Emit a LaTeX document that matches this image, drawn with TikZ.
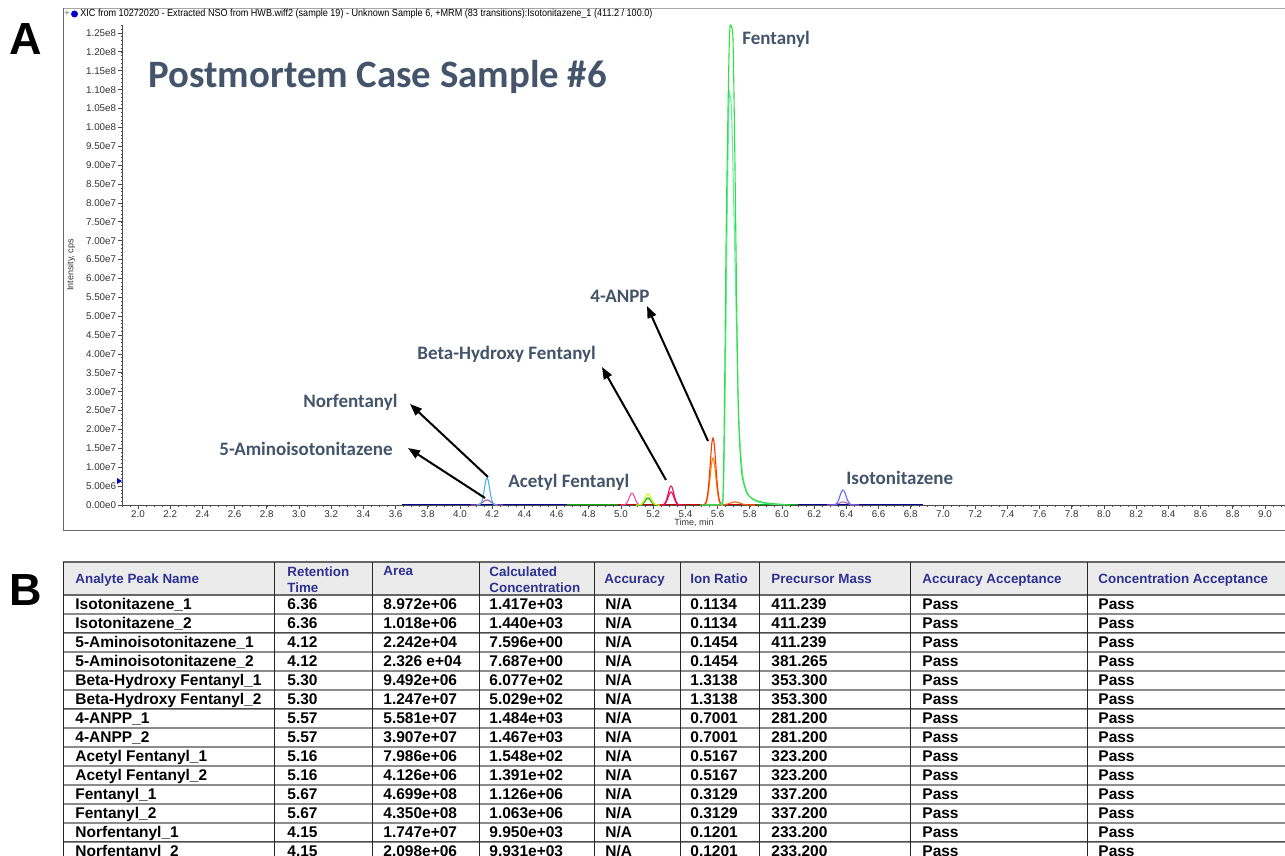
\documentclass[tikz,border=0pt]{standalone}
\usepackage{fontspec}
\usepackage{graphicx}
\setmainfont{Liberation Sans}
\newfontfamily\calib{Carlito}
\usetikzlibrary{arrows.meta}
\definecolor{lab}{HTML}{44546A}
\definecolor{hdr}{HTML}{2E3192}
\definecolor{hdbg}{HTML}{EBEBEB}
\definecolor{sep}{HTML}{8C8C8C}
\definecolor{fgreen}{HTML}{33DD44}
\definecolor{fmint}{HTML}{66EEAA}
\newcommand\drawpeak[4]{%
  \pgfmathsetmacro\pka{#2-4*#4}\pgfmathsetmacro\pkb{#2+4*#4}%
  \draw[#1, line width=0.55pt] plot[domain=\pka:\pkb, samples=41, smooth] (\x, {505-#3*exp(-((\x-#2)^2)/(2*#4*#4))});}
\begin{document}
\begin{tikzpicture}[x=0.5pt,y=-0.5pt,
  lbl/.style={font=\calib\bfseries\fontsize{9.5}{11}\selectfont, text=lab, inner sep=0, anchor=base west},
  arr/.style={-{Triangle[length=6pt,width=4.5pt]}, line width=1pt, black},
  ticklab/.style={font=\fontsize{4.9}{5}\selectfont, text=black!80, inner sep=0},
  cell/.style={font=\bfseries\fontsize{7.75}{9}\selectfont, inner sep=0, anchor=base west},
  hd/.style={font=\bfseries\fontsize{6.7}{8}\selectfont, text=hdr, inner sep=0, align=left},
  panel/.style={font=\bfseries\fontsize{22.5}{24}\selectfont, inner sep=0}]
\useasboundingbox (0,0) rectangle (1285,856);
\fill[white] (0,0) rectangle (1285,856);

% panel letters
\node[panel] (pA) at (26,39) {A};
\node[panel] (pB) at (26,590) {B};

% chart frame
\draw[gray!70, line width=0.8pt] (63,8.5) -- (1285,8.5);
\draw[gray!80!black, line width=0.5pt] (63,8) -- (63,530) -- (1285,530);
\node[font=\fontsize{5}{5}\selectfont, text=gray, inner sep=0] (plus) at (67,14) {+};
\fill[blue!80!black] (74.5,14) circle (3.5);
\node[font=\fontsize{5.1}{6}\selectfont, inner sep=0, anchor=west] (hdrtxt) at (80,14) {\scalebox{0.89}[1]{XIC from 10272020 - Extracted NSO from HWB.wiff2 (sample 19) - Unknown Sample 6, +MRM (83 transitions):Isotonitazene\_1 (411.2 / 100.0)}};

% y axis
\draw[gray!60!black, line width=0.5pt] (122,25) -- (122,505);
\foreach \v/\t [count=\k from 0] in {0.00e0,5.00e6,1.00e7,1.50e7,2.00e7,2.50e7,3.00e7,3.50e7,4.00e7,4.50e7,5.00e7,5.50e7,6.00e7,6.50e7,7.00e7,7.50e7,8.00e7,8.50e7,9.00e7,9.50e7,1.00e8,1.05e8,1.10e8,1.15e8,1.20e8,1.25e8}{
  \pgfmathsetmacro\yy{505-\k*18.88}
  \draw[gray!60!black, line width=0.4pt] (118,\yy) -- (122,\yy);
  \node[ticklab, anchor=east] (yl\k) at (116.5,\yy) {\v};
}
\foreach \m in {1,...,127}{
  \pgfmathsetmacro\yy{505-\m*3.776}
  \draw[gray!60!black, line width=0.3pt] (120.5,\yy) -- (122,\yy);
}
\node[font=\fontsize{4.5}{5}\selectfont, text=black!80, inner sep=0, rotate=90] (ylab) at (71,265) {Intensity, cps};
\fill[blue!80!black] (117,478) -- (122,481) -- (117,484) -- cycle;

% x axis
\draw[gray!60!black, line width=0.5pt] (122,505) -- (1285,505);
\foreach \m in {0,...,144}{
  \pgfmathsetmacro\xx{138+(\m*0.05-0.1)*161}
  \draw[gray!60!black, line width=0.3pt] (\xx,505) -- (\xx,507);
}
\foreach \t [count=\k] in {2.0,2.2,2.4,2.6,2.8,3.0,3.2,3.4,3.6,3.8,4.0,4.2,4.4,4.6,4.8,5.0,5.2,5.4,5.6,5.8,6.0,6.2,6.4,6.6,6.8,7.0,7.2,7.4,7.6,7.8,8.0,8.2,8.4,8.6,8.8,9.0}{
  \pgfmathsetmacro\xx{138+(\k-1)*0.2*161}
  \draw[gray!60!black, line width=0.4pt] (\xx,505) -- (\xx,509);
  \node[ticklab, anchor=north] (xl\k) at (\xx,510) {\t};
}
\node[font=\fontsize{4.5}{5}\selectfont, text=black!80, inner sep=0] (xlab) at (694,523) {Time, min};

% baselines
\draw[blue!60!black, line width=0.6pt] (402,504.5) -- (923,504.5);
\draw[green!70!black, line width=0.6pt] (567,504.5) -- (798,504.5);
\draw[red!80!black, line width=0.6pt] (618,504.3) -- (757,504.3);

% small peaks
\drawpeak{violet!70}{487}{5}{4}
\drawpeak{cyan!80!blue!70}{487}{27}{2.6}
\drawpeak{magenta!70}{632}{12}{2.8}
\drawpeak{green!70!black}{648}{7}{2.8}
\drawpeak{lime!80!yellow}{648}{11}{3}
\drawpeak{red!70!magenta}{671}{13}{2.8}
\drawpeak{magenta!60!red}{671}{19}{2.8}
\drawpeak{orange!80!red}{735}{3}{5}
\drawpeak{orange!90!yellow}{713}{47}{2.8}
\drawpeak{red!60!orange}{713}{67}{2.8}
\drawpeak{violet!60}{843}{3}{4}
\drawpeak{blue!60}{843}{15}{3}

% fentanyl peaks
\draw[fmint, line width=0.55pt] plot[smooth, tension=0.5] coordinates {(705,505) (720,504.5) (723,500) (724.5,440) (726,320) (727.5,190) (729,100) (730,95) (731.5,110) (733,170) (735,260) (737,350) (738.5,410) (740.5,450) (743,477) (747,492) (752,499) (762,503) (785,505)};
\draw[fgreen, line width=0.55pt] plot[smooth, tension=0.5] coordinates {(700,505) (718,504.5) (721,503) (723,495) (724.5,400) (726,248) (727.5,140) (729,55) (730,27) (731.5,27) (733,40) (734.5,130) (736,248) (737.3,350) (738.5,415) (740,450) (742,475) (745,488) (748,495) (755,500) (767,503) (790,505)};

% title and labels
\node[font=\calib\bfseries\fontsize{19.4}{22}\selectfont, text=lab, inner sep=0, anchor=base west] (title) at (148,88) {Postmortem Case Sample \#6};
\node[lbl] (lfen) at (742,45) {Fentanyl};
\node[lbl] (lanpp) at (590,302) {4-ANPP};
\node[lbl] (lbeta) at (417,359) {Beta-Hydroxy Fentanyl};
\node[lbl] (lnor) at (303,407) {Norfentanyl};
\node[lbl] (lamino) at (219,455) {5-Aminoisotonitazene};
\node[lbl] (lacet) at (508,487) {Acetyl Fentanyl};
\node[lbl] (liso) at (846,484) {Isotonitazene};

% arrows
\coordinate (norT) at (488,477); \coordinate (norH) at (410,404);
\coordinate (amiT) at (485,498); \coordinate (amiH) at (408,448);
\coordinate (betT) at (666,480); \coordinate (betH) at (602,367);
\coordinate (anpT) at (708,441); \coordinate (anpH) at (647,306);
\draw[arr] (norT) -- (norH);
\draw[arr] (amiT) -- (amiH);
\draw[arr] (betT) -- (betH);
\draw[arr] (anpT) -- (anpH);

% table
\fill[hdbg] (63,562) rectangle (1285,595);
\draw[gray!80!black, line width=0.6pt] (63,562) -- (1285,562);
\draw[gray!80!black, line width=0.6pt] (63,595) -- (1285,595);
\foreach \k in {1,...,13}{
  \pgfmathsetmacro\yy{595+19*\k}
  \draw[sep, line width=0.8pt] (63,\yy) -- (1285,\yy);
}
\foreach \yy in {633,709,842}{
  \draw[black!70, line width=0.5pt] (63,\yy-0.8) -- (1285,\yy-0.8);
}
\foreach \xx in {63,274,372,479,594,680,759,910,1087}{
  \draw[black!85, line width=0.5pt] (\xx,562) -- (\xx,856);
}
\node[hd, anchor=base west] (h1) at (75,583.5) {Analyte Peak Name};
\node[hd, anchor=north west] (h2) at (287,566) {Retention\\Time};
\node[hd, anchor=north west] (h3) at (383,566) {Area};
\node[hd, anchor=north west] (h4) at (489,566) {Calculated\\Concentration};
\node[hd, anchor=base west] (h5) at (604,583.5) {Accuracy};
\node[hd, anchor=base west] (h6) at (690,583.5) {Ion Ratio};
\node[hd, anchor=base west] (h7) at (771,583.5) {Precursor Mass};
\node[hd, anchor=base west] (h8) at (922,583.5) {Accuracy Acceptance};
\node[hd, anchor=base west] (h9) at (1098,583.5) {Concentration Acceptance};

\foreach \nm/\rt/\ar/\cc/\ir/\pm [count=\i] in {
  Isotonitazene\_1/6.36/8.972e+06/1.417e+03/0.1134/411.239,
  Isotonitazene\_2/6.36/1.018e+06/1.440e+03/0.1134/411.239,
  5-Aminoisotonitazene\_1/4.12/2.242e+04/7.596e+00/0.1454/411.239,
  5-Aminoisotonitazene\_2/4.12/2.326 e+04/7.687e+00/0.1454/381.265,
  Beta-Hydroxy Fentanyl\_1/5.30/9.492e+06/6.077e+02/1.3138/353.300,
  Beta-Hydroxy Fentanyl\_2/5.30/1.247e+07/5.029e+02/1.3138/353.300,
  4-ANPP\_1/5.57/5.581e+07/1.484e+03/0.7001/281.200,
  4-ANPP\_2/5.57/3.907e+07/1.467e+03/0.7001/281.200,
  Acetyl Fentanyl\_1/5.16/7.986e+06/1.548e+02/0.5167/323.200,
  Acetyl Fentanyl\_2/5.16/4.126e+06/1.391e+02/0.5167/323.200,
  Fentanyl\_1/5.67/4.699e+08/1.126e+06/0.3129/337.200,
  Fentanyl\_2/5.67/4.350e+08/1.063e+06/0.3129/337.200,
  Norfentanyl\_1/4.15/1.747e+07/9.950e+03/0.1201/233.200,
  Norfentanyl\_2/4.15/2.098e+06/9.931e+03/0.1201/233.200}{
  \pgfmathsetmacro\yb{609.5+19*(\i-1)}
  \node[cell] (nm\i) at (75,\yb) {\nm};
  \node[cell] (rt\i) at (287,\yb) {\rt};
  \node[cell] (ar\i) at (383,\yb) {\ar};
  \node[cell] (cc\i) at (489,\yb) {\cc};
  \node[cell] (ac\i) at (605,\yb) {N/A};
  \node[cell] (ir\i) at (690,\yb) {\ir};
  \node[cell] (pm\i) at (771,\yb) {\pm};
  \node[cell] (aa\i) at (922,\yb) {Pass};
  \node[cell] (ca\i) at (1098,\yb) {Pass};
}
\end{tikzpicture}
\end{document}
